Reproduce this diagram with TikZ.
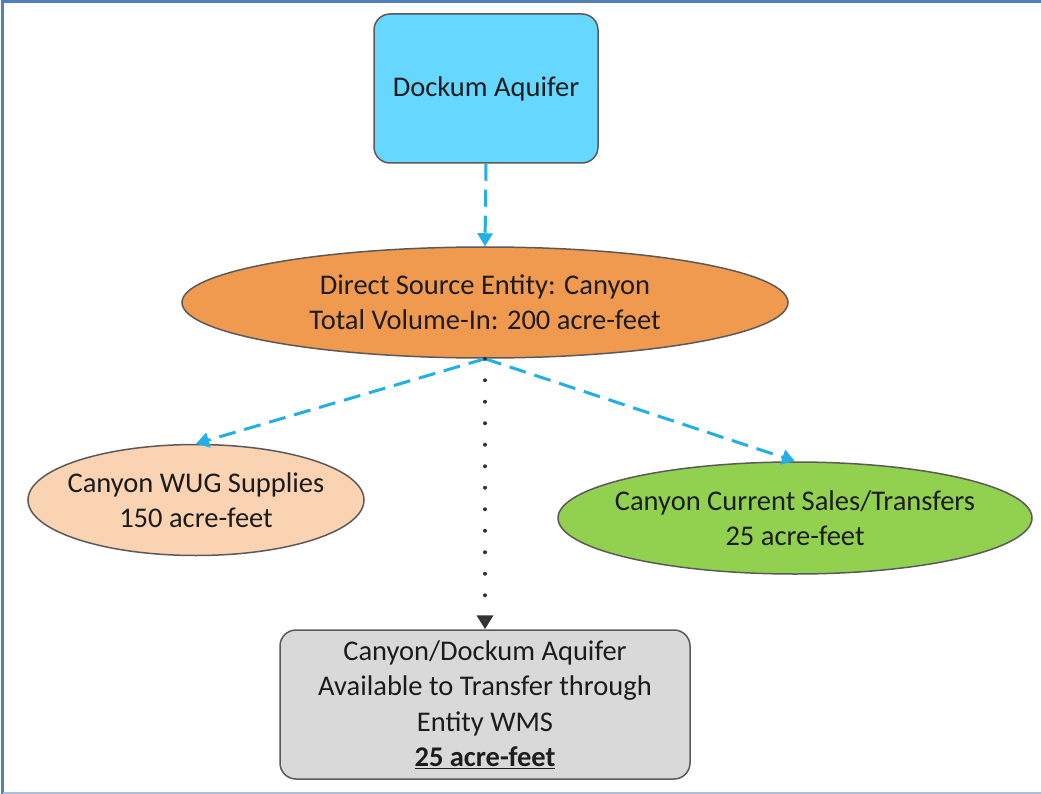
\documentclass[tikz,border=0pt]{standalone}
\usepackage{fontspec}
\setmainfont{Carlito}
\usetikzlibrary{shapes.geometric,arrows.meta}
\definecolor{frameblue}{HTML}{4F81BD}
\definecolor{framelight}{HTML}{A9BEDC}
\definecolor{aqfill}{HTML}{66D7FF}
\definecolor{srcfill}{HTML}{EF9A4F}
\definecolor{wugfill}{HTML}{FAD3B2}
\definecolor{salefill}{HTML}{92D050}
\definecolor{availfill}{HTML}{D9D9D9}
\definecolor{edgegrey}{HTML}{5A5A5A}
\definecolor{arrowblue}{HTML}{22AEE6}
\definecolor{txt}{HTML}{1C1C1C}
\tikzset{
  txtstyle/.style={font=\fontsize{28.5}{35.5}\selectfont, text=txt, align=center},
  roundbox/.style={txtstyle, draw=edgegrey, line width=1.5pt, rounded corners=16pt, inner sep=0pt},
  oval/.style={ellipse, draw=edgegrey, line width=1.5pt, inner sep=0pt},
  ovaltext/.style={label={[txtstyle, inner sep=0pt]center:#1}},
  bluedash/.style={draw=arrowblue, line width=3pt, dash pattern=on 17pt off 9pt, -{Triangle[length=13pt,width=15pt]}},
  dotline/.style={draw=black!80, line width=4pt, line cap=round, dash pattern=on 0pt off 21.5pt, -{Triangle[length=14pt,width=16pt,fill=black!75]}}
}
\begin{document}
\begin{tikzpicture}[x=1pt,y=-1pt]
\useasboundingbox (0,0) rectangle (1041,794);
\fill[white] (0,0) rectangle (1041,794);
% frame
\draw[frameblue, line width=3pt] (2.5,794) -- (2.5,2) -- (1041,2);
\draw[framelight, line width=2pt] (2.5,793) -- (1041,793);
% nodes
\node[roundbox, fill=aqfill, minimum width=224pt, minimum height=149pt] (dock) at (486,88.5) {Dockum Aquifer};
\node[oval, fill=srcfill, minimum width=606pt, minimum height=111pt,
      ovaltext={Direct Source Entity: Canyon\\Total Volume-In: 200 acre-feet}] (src) at (485,302.5) {};
\node[oval, fill=wugfill, minimum width=336pt, minimum height=111pt,
      ovaltext={Canyon WUG Supplies\\150 acre-feet}] (wug) at (196,500) {};
\node[oval, fill=salefill, minimum width=474pt, minimum height=112pt,
      ovaltext={Canyon Current Sales/Transfers\\25 acre-feet}] (sale) at (795,518) {};
\node[roundbox, fill=availfill, minimum width=410pt, minimum height=149pt] (avail) at (485,704.5) {Canyon/Dockum Aquifer\\Available to Transfer through\\Entity WMS\\\textbf{\underline{25 acre-feet}}};
% connectors
\draw[bluedash] (dock.south) -- (src.north);
\draw[bluedash] (src.south) -- (wug.north);
\draw[bluedash] (src.south) -- (sale.north);
\draw[dotline] (src.south) -- (avail.north);
\end{tikzpicture}
\end{document}
